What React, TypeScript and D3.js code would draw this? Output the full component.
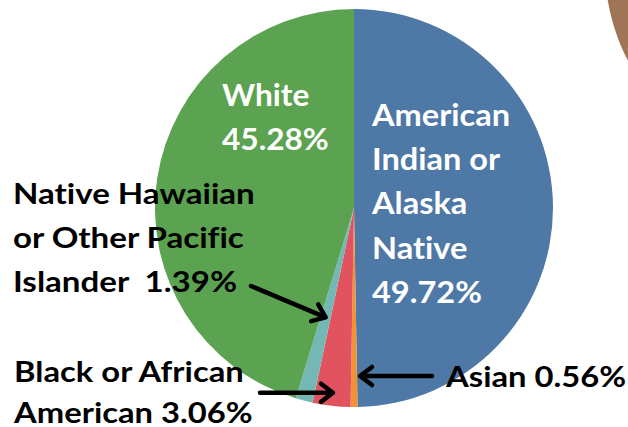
import React from "react";
import * as d3 from "d3";

const WIDTH = 628;
const HEIGHT = 427;

// race shares, clockwise from 12 o'clock
const groups = [
  "American Indian or Alaska Native",
  "Asian",
  "Black or African American",
  "Native Hawaiian or Other Pacific Islander",
  "White",
];
const shares = [49.72, 0.56, 3.06, 1.39, 45.28];
const colors = ["#4e78a6", "#f39234", "#e0535f", "#74b8b6", "#5ba251"];

const CX = 354;
const CY = 208;
const R = 199;
const FONT = "Lato, 'Open Sans', sans-serif";

function Arrow({ tip, tail }: { tip: [number, number]; tail: [number, number] }) {
  const a = Math.atan2(tip[1] - tail[1], tip[0] - tail[0]);
  const len = 15;
  const spread = 0.65;
  const p1 = [tip[0] - len * Math.cos(a - spread), tip[1] - len * Math.sin(a - spread)];
  const p2 = [tip[0] - len * Math.cos(a + spread), tip[1] - len * Math.sin(a + spread)];
  return (
    <g fill="none" stroke="#000" strokeWidth={4.5} strokeLinecap="round" strokeLinejoin="round">
      <line x1={tail[0]} y1={tail[1]} x2={tip[0] - 2 * Math.cos(a)} y2={tip[1] - 2 * Math.sin(a)} />
      <path d={`M${p1[0]},${p1[1]}L${tip[0]},${tip[1]}L${p2[0]},${p2[1]}`} />
    </g>
  );
}

export default function App() {
  const pie = d3
    .pie<number>()
    .sort(null)
    .value((d) => d);
  const arcs = pie(shares);
  const arc = d3.arc<d3.PieArcDatum<number>>().innerRadius(0).outerRadius(R);

  // point inside a slice at its middle angle
  const at = (i: number, r: number): [number, number] => {
    const m = (arcs[i].startAngle + arcs[i].endAngle) / 2;
    return [CX + r * Math.sin(m), CY - r * Math.cos(m)];
  };

  const asianTip = at(1, 168);
  asianTip[0] += 6;
  const blackTip = at(2, 186);
  const hawaiiTip = at(3, 113);

  // text block; sx stretches glyphs sideways like the original's wide face
  const label = (lines: string[], x: number, y0: number, dy: number, fill: string, size: number, sx: number) => (
    <g transform={`translate(${x},${y0}) scale(${sx},1)`}>
      {lines.map((t, k) => (
        <text
          key={k}
          x={0}
          y={k * dy}
          fill={fill}
          fontSize={size}
          fontWeight={700}
          fontFamily={FONT}
          style={{ whiteSpace: "pre", fontVariantLigatures: "none" }}
        >
          {t}
        </text>
      ))}
    </g>
  );

  return (
    <div style={{ position: "fixed", left: 0, top: 0 }}>
      <svg width={WIDTH} height={HEIGHT}>
        <rect width={WIDTH} height={HEIGHT} fill="#fff" />
        {/* edge of the neighbouring pie */}
        <circle cx={808} cy={-33} r={203} fill="#a07457" />
        <g transform={`translate(${CX},${CY})`}>
          {arcs.map((a, i) => (
            <path key={groups[i]} d={arc(a) || ""} fill={colors[i]} />
          ))}
        </g>
        {label(["White", "45.28%"], 222, 106, 44, "#fff", 31, 1.02)}
        {label(["American", "Indian or", "Alaska", "Native", "49.72%"], 372, 126, 44.2, "#fff", 31, 1.05)}
        {label(["Native Hawaiian", "or Other Pacific", "Islander  1.39%"], 13, 204, 44, "#000", 29, 1.14)}
        {label(["Black or African", "American 3.06%"], 14, 382, 41, "#000", 29, 1.13)}
        {label(["Asian 0.56%"], 446, 387, 0, "#000", 29, 1.13)}
        <Arrow tip={hawaiiTip} tail={[251, 286]} />
        <Arrow tip={blackTip} tail={[260, blackTip[1]]} />
        <Arrow tip={asianTip} tail={[432, asianTip[1]]} />
      </svg>
    </div>
  );
}
